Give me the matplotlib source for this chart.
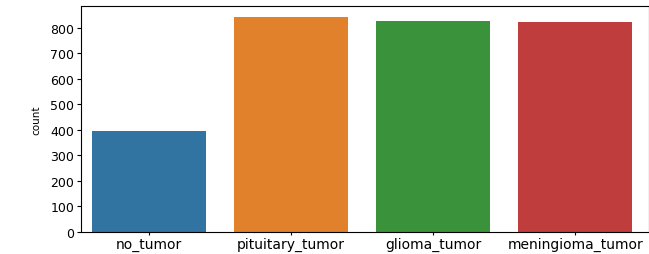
import matplotlib
matplotlib.use("Agg")
import matplotlib.pyplot as plt

categories = ["no_tumor", "pituitary_tumor", "glioma_tumor", "meningioma_tumor"]
counts = [395, 844, 826, 822]
colors = ["#3274a1", "#e1812c", "#3a923a", "#c03d3e"]
yticks = [0, 100, 200, 300, 400, 500, 600, 700, 800]

fig = plt.figure(figsize=(6.49, 2.55), dpi=100)
ax = fig.add_axes([81/649, 22/255, 568/649, 226/255])
ax.bar(range(len(categories)), counts, width=0.8, color=colors)
ax.set_xticks(range(len(categories)))
ax.set_xticklabels(categories, fontsize=10)
ax.set_yticks(yticks)
ax.tick_params(axis="y", labelsize=9, length=3, pad=2)
ax.tick_params(axis="x", length=2.5, pad=1)
ax.set_xlim(-0.48, 3.52)
ax.set_ylim(0, 886)
ax.set_ylabel("count", fontsize=7.5, labelpad=6)
fig.savefig("out.png", dpi=100)
